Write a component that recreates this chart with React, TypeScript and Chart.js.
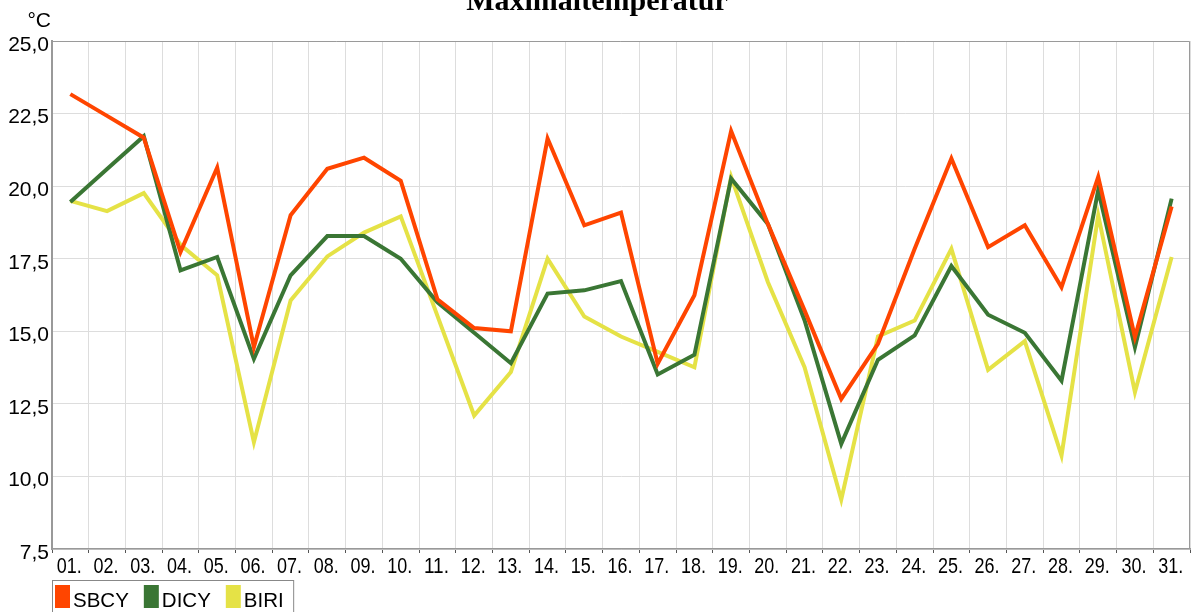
import React, { useEffect, useRef } from "react";
import { Chart, registerables } from "chart.js";

Chart.register(...registerables);

const days: string[] = [
  "01.", "02.", "03.", "04.", "05.", "06.", "07.", "08.", "09.", "10.",
  "11.", "12.", "13.", "14.", "15.", "16.", "17.", "18.", "19.", "20.",
  "21.", "22.", "23.", "24.", "25.", "26.", "27.", "28.", "29.", "30.", "31.",
];

const sbcy: number[] = [
  23.17, 22.42, 21.67, 17.73, 20.64, 14.45, 19.0, 20.6, 20.98, 20.18,
  16.1, 15.11, 15.0, 21.64, 18.65, 19.09, 13.88, 16.24, 21.9, 18.7,
  15.72, 12.67, 14.57, 17.84, 20.95, 17.9, 18.65, 16.52, 20.32, 14.8, 19.3,
];

const dicy: number[] = [
  19.45, 20.59, 21.72, 17.1, 17.56, 14.05, 16.93, 18.28, 18.28, 17.5,
  16.0, 14.95, 13.9, 16.3, 16.41, 16.73, 13.51, 14.19, 20.26, 18.7,
  15.38, 11.12, 14.02, 14.86, 17.25, 15.57, 14.95, 13.3, 19.86, 14.45, 19.57,
];

const biri: number[] = [
  19.49, 19.14, 19.76, 17.98, 16.93, 11.18, 16.06, 17.58, 18.4, 18.96,
  15.53, 12.1, 13.6, 17.5, 15.51, 14.82, 14.29, 13.76, 20.32, 16.7,
  13.76, 9.2, 14.82, 15.37, 17.84, 13.67, 14.66, 10.72, 19.0, 12.9, 17.56,
];

const seriesNames: string[] = ["SBCY", "DICY", "BIRI"];
const seriesColors: string[] = ["#FF4500", "#3A7634", "#E5E246"];

const yMin = 7.5;
const yMax = 25;
const yStep = 2.5;

const titleText = "Maximaltemperatur";
const unitText = "°C";

const decorPlugin = {
  id: "decor",
  beforeDraw(chart: any) {
    const ctx = chart.ctx;
    ctx.save();
    ctx.fillStyle = "#ffffff";
    ctx.fillRect(0, 0, chart.width, chart.height);
    ctx.restore();
  },
  beforeDatasetsDraw(chart: any) {
    const ctx = chart.ctx;
    const a = chart.chartArea;
    ctx.save();
    ctx.strokeStyle = "#9a9a9a";
    ctx.lineWidth = 1;
    ctx.beginPath();
    ctx.moveTo(a.left, a.top + 0.5);
    ctx.lineTo(a.right - 0.5, a.top + 0.5);
    ctx.lineTo(a.right - 0.5, a.bottom);
    ctx.stroke();
    ctx.restore();
  },
  afterDraw(chart: any) {
    const ctx = chart.ctx;
    const xs = chart.scales.x;
    ctx.save();
    // x-axis category labels (condensed, as in the original)
    ctx.fillStyle = "#000";
    ctx.font = "22px 'Liberation Sans', Arial, sans-serif";
    ctx.textAlign = "center";
    ctx.textBaseline = "alphabetic";
    (chart.data.labels as string[]).forEach((lab, i) => {
      const px = xs.getPixelForTick(i);
      ctx.fillText(lab, px - 1, 573, 25);
    });
    // title (partially cut at the top)
    ctx.font = "bold 30px 'Liberation Serif', 'Times New Roman', serif";
    ctx.textAlign = "center";
    ctx.fillText(titleText, 597, 10, 266);
    // unit label
    ctx.font = "21px 'Liberation Sans', Arial, sans-serif";
    ctx.textAlign = "right";
    ctx.fillText(unitText, 51, 27);
    // legend
    const top = 580.5;
    ctx.strokeStyle = "#888";
    ctx.lineWidth = 1;
    ctx.font = "20.5px 'Liberation Sans', Arial, sans-serif";
    ctx.textAlign = "left";
    let x = 55;
    const items = chart.data.datasets.map((d: any) => ({ label: d.label, color: d.borderColor }));
    items.forEach((it: any, i: number) => {
      ctx.fillStyle = it.color;
      ctx.fillRect(x, 585, 15, 23);
      ctx.fillStyle = "#000";
      ctx.fillText(it.label, x + 18, 607);
      const w = ctx.measureText(it.label).width;
      x += 18 + w + (i < items.length - 1 ? 15 : 10);
    });
    ctx.strokeRect(52.5, top, x - 52.5, 40);
    ctx.restore();
  },
};

export default function App() {
  const ref = useRef<HTMLCanvasElement | null>(null);

  useEffect(() => {
    document.body.style.margin = "0";
    const canvas = ref.current;
    if (!canvas) return;
    const chart = new Chart(canvas, {
      type: "line",
      data: {
        labels: days,
        datasets: [sbcy, dicy, biri].map((vals, i) => ({
          label: seriesNames[i],
          data: vals,
          borderColor: seriesColors[i],
          backgroundColor: seriesColors[i],
          borderWidth: 4,
          pointRadius: 0,
          pointHoverRadius: 0,
          tension: 0,
          fill: false,
        })),
      },
      options: {
        animation: false,
        responsive: false,
        maintainAspectRatio: false,
        layout: { padding: { top: 41, bottom: 33, left: 0, right: 3 } },
        plugins: {
          legend: { display: false },
          title: { display: false },
          tooltip: { enabled: false },
        },
        scales: {
          x: {
            type: "category",
            offset: true,
            grid: {
              color: "#dddddd",
              lineWidth: 1,
              offset: true,
              drawTicks: true,
              tickLength: 4,
              tickColor: "#555",
            },
            border: { display: true, color: "#999", width: 1.5 },
            ticks: {
              display: false,
              autoSkip: false,
              maxRotation: 0,
              minRotation: 0,
            },
            afterFit: (scale: any) => {
              scale.height = 30;
            },
          },
          y: {
            type: "linear",
            min: yMin,
            max: yMax,
            grid: { color: "#dddddd", lineWidth: 1, drawTicks: false },
            border: { display: true, color: "#999", width: 2 },
            ticks: {
              stepSize: yStep,
              color: "#000",
              font: { family: "'Liberation Sans', Arial, sans-serif", size: 21 },
              padding: 3,
              labelOffset: 4,
              callback: (v: any) => Number(v).toFixed(1).replace(".", ","),
            },
            afterFit: (scale: any) => {
              scale.width = 52;
            },
          },
        },
      },
      plugins: [decorPlugin],
    });
    return () => chart.destroy();
  }, []);

  return (
    <div style={{ position: "fixed", left: 0, top: 0, width: 1193, height: 612 }}>
      <canvas ref={ref} width={1193} height={612} style={{ display: "block" }} />
    </div>
  );
}
